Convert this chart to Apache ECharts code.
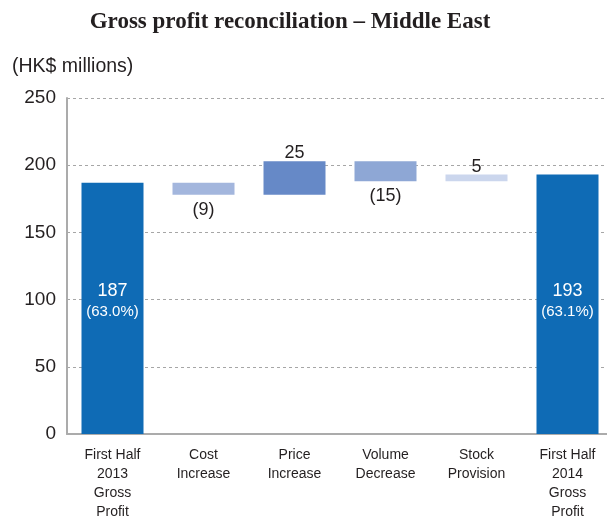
<!DOCTYPE html>
<html>
<head>
<meta charset="utf-8">
<script src="https://cdn.jsdelivr.net/npm/echarts@6/dist/echarts.min.js"></script>
<style>
  html, body { margin: 0; padding: 0; background: #fff; }
  #chart { width: 607px; height: 517px; }
</style>
</head>
<body>
<div id="chart"></div>
<script>
// Waterfall: opening gross profit, movements, closing gross profit (HK$ millions)
const categories = [
  'First Half\n2013\nGross\nProfit',
  'Cost\nIncrease',
  'Price\nIncrease',
  'Volume\nDecrease',
  'Stock\nProvision',
  'First Half\n2014\nGross\nProfit'
];
const changes = [187, -9, 25, -15, 5, 193];
const isTotal = [true, false, false, false, false, true];
const margins = ['63.0%', null, null, null, null, '63.1%'];
const yTicks = [0, 50, 100, 150, 200, 250];

const barColors = ['#0f6bb5', '#a3b6dd', '#6689c7', '#8ea7d5', '#cbd6ed', '#0f6bb5'];
const sans = '"Liberation Sans", Arial, sans-serif';

// Work out the invisible base and visible height of each bar
const base = [];
const height = [];
let running = 0;
changes.forEach((v, i) => {
  if (isTotal[i]) {
    base.push(0);
    height.push(v);
    running = v;
  } else {
    const next = running + v;
    base.push(Math.min(running, next));
    height.push(Math.abs(v));
    running = next;
  }
});

function deltaText(v) {
  return v < 0 ? '(' + Math.abs(v) + ')' : String(v);
}

const chart = echarts.init(document.getElementById('chart'), null, { renderer: 'canvas' });

chart.setOption({
  animation: false,
  title: {
    text: 'Gross profit reconciliation \u2013 Middle East',
    left: 285,
    textAlign: 'center',
    top: 6,
    textStyle: {
      fontFamily: '"Liberation Serif", "Times New Roman", serif',
      fontWeight: 'bold',
      fontSize: 23,
      color: '#231f20'
    }
  },
  graphic: [{
    type: 'text',
    left: 12,
    top: 57,
    style: {
      text: '(HK$ millions)',
      font: '19.5px ' + sans,
      fill: '#231f20'
    }
  }],
  grid: { left: 67, top: 98, width: 546, height: 336, outerBoundsMode: 'none', containLabel: false },
  xAxis: {
    type: 'category',
    data: categories,
    axisLine: { lineStyle: { color: '#ababab', width: 2 } },
    axisTick: { show: false },
    axisLabel: {
      interval: 0,
      margin: 12,
      color: '#231f20',
      fontSize: 14,
      lineHeight: 19,
      fontFamily: sans
    }
  },
  yAxis: {
    type: 'value',
    min: yTicks[0],
    max: yTicks[yTicks.length - 1],
    interval: 50,
    axisLine: { show: true, lineStyle: { color: '#ababab', width: 2 } },
    axisTick: { show: false },
    axisLabel: {
      margin: 11,
      color: '#231f20',
      fontSize: 19,
      fontFamily: sans
    },
    splitLine: {
      lineStyle: { color: '#a6a6a6', type: [3, 3], width: 1 }
    }
  },
  series: [
    {
      type: 'bar',
      stack: 'wf',
      data: base,
      barWidth: 62,
      itemStyle: { color: 'transparent' },
      silent: true
    },
    {
      type: 'bar',
      stack: 'wf',
      barWidth: 62,
      data: height.map((h, i) => {
        const item = { value: h, itemStyle: { color: barColors[i] } };
        if (isTotal[i]) {
          item.label = {
            show: true,
            position: 'insideBottom',
            distance: 112,
            color: '#ffffff',
            fontFamily: sans,
            formatter: () => '{v|' + changes[i] + '}\n{p|(' + margins[i] + ')}',
            rich: {
              v: { fontSize: 18, color: '#fff', lineHeight: 22, fontFamily: sans },
              p: { fontSize: 15, color: '#fff', lineHeight: 20, fontFamily: sans }
            }
          };
        } else {
          item.label = {
            show: true,
            position: changes[i] < 0 ? 'bottom' : 'top',
            distance: changes[i] < 0 ? 6 : -1,
            color: '#231f20',
            fontSize: 18,
            fontFamily: sans,
            formatter: () => deltaText(changes[i])
          };
        }
        return item;
      })
    }
  ]
});
</script>
</body>
</html>
